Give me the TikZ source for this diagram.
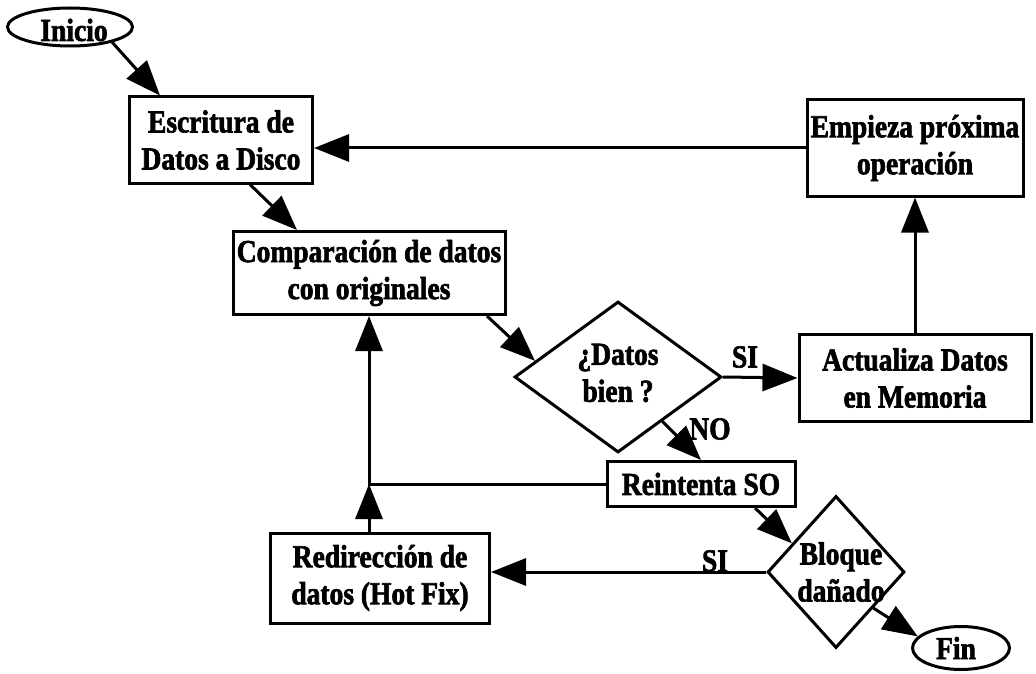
\documentclass[tikz,border=0pt]{standalone}
\usepackage{fontspec}
\setmainfont{Liberation Serif}[FakeStretch=0.86,BoldFeatures={FakeBold=2}]
\usetikzlibrary{shapes.geometric,arrows.meta,calc}
\begin{document}
\begin{tikzpicture}[x=1pt,y=-1pt,
  every node/.style={font=\fontsize{32}{37}\selectfont\bfseries},
  box/.style={draw,line width=3pt,rectangle,align=center,inner sep=0pt},
  dia/.style={draw,line width=3pt,diamond,inner sep=0pt},
  ell/.style={draw,line width=3pt,ellipse,inner sep=0pt},
  txt/.style={align=center,inner sep=0pt},
  arr/.style={line width=3pt,-{Triangle[length=35pt,width=27pt]}}]
\useasboundingbox (0,0) rectangle (1036,674);
\node[ell,minimum width=125pt,minimum height=38pt] (i) at (70,27) {};
\node[txt] (it) at (74,30) {Inicio};
\node[box,minimum width=183pt,minimum height=86pt] (e) at (221,140) {Escritura de\\Datos a Disco};
\node[box,minimum width=216pt,minimum height=96pt] (m) at (915,148) {Empieza próxima\\operación};
\node[box,minimum width=272pt,minimum height=83pt] (c) at (369,273) {Comparación de datos\\con originales};
\node[dia,minimum width=207pt,minimum height=151pt] (d) at (618,377) {};
\node[txt] (dt) at (618,373) {¿Datos\\bien ?};
\node[box,minimum width=232pt,minimum height=87pt] (a) at (915,378) {Actualiza Datos\\en Memoria};
\node[box,minimum width=188pt,minimum height=45pt] (r) at (701,484) {Reintenta SO};
\node[box,minimum width=219pt,minimum height=90pt] (h) at (380,578) {Redirección de\\datos (Hot Fix)};
\node[dia,minimum width=137pt,minimum height=152pt] (b) at (836,572) {};
\node[txt] (bt) at (841,572) {Bloque\\dañado};
\node[ell,minimum width=97pt,minimum height=43pt] (f) at (961,648) {};
\node[txt] (ft) at (956,648) {Fin};
\draw[arr] (i.-20) -- ($(e.north)+(-61,0)$);
\draw[arr] ($(e.south)+(29,0)$) -- ($(c.north)+(-72,0)$);
\draw[arr] ($(c.south)+(118,0)$) -- (d.169.5);
\draw[arr] (d.east) -- (a.west);
\node[txt] (si1) at (745,357) {SI};
\draw[arr] (a.north) -- (a.north |- m.south);
\draw[arr] (m.west) -- (m.west -| e.east);
\draw[arr] (d.-45.6) -- (r.north);
\node[txt] (no) at (710,429) {NO};
\coordinate (j) at (r.west -| c.south);
\draw[arr] (r.west) -- (j) -- (c.south);
\draw[arr] (h.north -| j) -- (j);
\draw[arr] ($(r.south)+(54,0)$) -- (b.147);
\draw[arr] (b.west) -- (b.west -| h.east);
\node[txt] (si2) at (715,561) {SI};
\draw[arr] (b.-44) -- (f.165);
\end{tikzpicture}
\end{document}
